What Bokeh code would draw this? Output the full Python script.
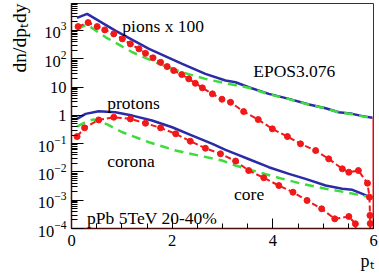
from bokeh.plotting import figure
from bokeh.models import FixedTicker, SingleIntervalTicker, LogTickFormatter, Label, Title
from bokeh.embed import file_html
from bokeh.resources import INLINE

# ---- data ----
pt_pi_total = [0.11, 0.31, 0.87, 1.54, 2.20, 2.66, 3.06, 3.26, 3.52, 3.92, 4.32, 4.72, 5.05, 5.31, 5.58, 5.78, 5.98]
pi_total = [2790, 3860, 991, 224, 66, 29.2, 17.0, 14.8, 9.84, 5.75, 3.83, 2.41, 1.78, 1.29, 1.13, 0.94, 0.82]

pt_pi_corona = [0.11, 0.31, 0.68, 1.21, 1.74, 2.20, 2.66, 3.06, 3.52, 3.92, 4.32, 4.72, 5.05, 5.31, 5.58, 5.78, 6.0]
pi_corona = [1140, 1615, 575, 170, 66, 33.3, 19.5, 13.6, 9.5, 5.6, 3.75, 2.38, 1.76, 1.28, 1.10, 0.92, 0.80]

pt_pi_core = [0.13, 0.33, 0.51, 0.66, 0.84, 1.01, 1.17, 1.34, 1.47, 1.62, 1.77, 1.90, 2.03, 2.19, 2.33,
              2.46, 2.60, 2.80, 2.99, 3.16, 3.42, 3.71, 3.99, 4.29, 4.55, 4.85, 5.11, 5.38, 5.51, 5.70,
              5.88, 5.92, 5.93, 5.935, 5.94]
pi_core = [1374, 1900, 1374, 1050, 759, 505, 336, 224, 156, 108, 75, 53, 38.3, 27.7, 19.5,
           13.6, 9.37, 5.75, 3.71, 2.90, 1.36, 0.71, 0.333, 0.178, 0.0984, 0.057, 0.029, 0.0129, 0.00975, 0.0112,
           0.0040, 0.00128, 2.9e-4, 1.5e-4, 1e-6]
pt_edge = [6.0, 6.0]
edge = [1e-6, 0.82]

pt_p_total = [0.11, 0.28, 0.54, 0.87, 1.21, 1.60, 2.00, 2.40, 2.80, 3.06, 3.26, 3.59, 3.92, 4.32, 4.65,
              5.05, 5.38, 5.58, 5.78, 5.92]
p_total = [0.75, 1.13, 1.40, 1.29, 0.98, 0.655, 0.38, 0.193, 0.098, 0.060, 0.0437, 0.0253, 0.0147, 0.00857,
           0.0057, 0.0033, 0.00253, 0.00233, 0.00168, 0.00128]

pt_p_corona = [0.11, 0.31, 0.44, 0.71, 1.01, 1.54, 2.07, 2.53, 2.99, 3.26, 3.72, 4.19, 4.58, 5.05, 5.44, 5.78, 6.0]
p_corona = [0.40, 0.62, 0.72, 0.48, 0.253, 0.112, 0.057, 0.038, 0.0253, 0.0168, 0.00975, 0.0057, 0.0038,
            0.00253, 0.00192, 0.00147, 0.00115]

pt_p_core = [0.11, 0.26, 0.54, 0.84, 1.17, 1.47, 1.77, 2.07, 2.36, 2.66, 2.96, 3.26, 3.52, 3.82, 4.12,
             4.40, 4.68, 4.97, 5.23, 5.51, 5.64, 5.72]
p_core = [0.178, 0.361, 0.69, 0.857, 0.75, 0.526, 0.361, 0.222, 0.122, 0.0687, 0.0437, 0.0243, 0.0112,
          0.0062, 0.0033, 0.00192, 0.00098, 4.97e-4, 2.2e-4, 2.65e-4, 1.47e-4, 1e-6]

x_ticks_interval = 2
y_ticks = [1e-4, 1e-3, 1e-2, 1e-1, 1, 10, 100, 1000]
y_plain_labels = {1: "1", 10: "10"}

FONT = "Liberation Serif"
BLUE = "#2b2ba6"
RED = "#f01818"
GREEN = "#3ddc3d"

p = figure(width=379, height=276, x_range=(0, 6), y_range=(1e-4, 9000), y_axis_type="log",
           output_backend="svg", toolbar_location=None,
           min_border_left=71, min_border_right=6, min_border_top=3, min_border_bottom=48)
p.grid.visible = False
p.outline_line_color = "#333333"
p.outline_line_width = 1
p.background_fill_color = "white"
p.border_fill_color = "white"

# axes
p.xaxis.ticker = SingleIntervalTicker(interval=x_ticks_interval, num_minor_ticks=4)
minor = [m * 10.0 ** e for e in range(-4, 4) for m in range(2, 10)]
p.yaxis.ticker = FixedTicker(ticks=y_ticks, minor_ticks=minor)
p.yaxis.formatter = LogTickFormatter()
p.yaxis.major_label_overrides = y_plain_labels
for ax in (p.xaxis, p.yaxis):
    ax.axis_line_color = "#4a0e0e"
    ax.axis_line_width = 1.5
    ax.major_tick_out = 0
    ax.minor_tick_out = 0
    ax.major_tick_line_color = "black"
    ax.minor_tick_line_color = "black"
    ax.major_label_text_font = FONT
    ax.major_label_text_font_size = "16.5px"
    ax.major_label_text_color = "black"
p.xaxis.major_tick_in = 10
p.xaxis.minor_tick_in = 5
p.yaxis.major_tick_in = 12
p.yaxis.minor_tick_in = 6
p.xaxis.major_label_standoff = 6
p.yaxis.major_label_standoff = 5

# axis titles
p.add_layout(Title(text="dn/dp\u209cdy", align="right", text_font=FONT, text_font_size="19.5px",
                   text_font_style="normal", text_color="black"), "left")
p.add_layout(Title(text="p\u209c", align="right", text_font=FONT, text_font_size="18px",
                   text_font_style="normal", text_color="black", standoff=0), "below")

# curves
p.line(pt_pi_total, pi_total, line_color=BLUE, line_width=2.5)
p.line(pt_p_total, p_total, line_color=BLUE, line_width=2.5)
p.line(pt_pi_corona, pi_corona, line_color=GREEN, line_width=2.5, line_dash="9 6")
p.line(pt_p_corona, p_corona, line_color=GREEN, line_width=2.5, line_dash="9 6")
p.line(pt_edge, edge, line_color=RED, line_width=2)
for xs, ys in ((pt_pi_core, pi_core), (pt_p_core, p_core)):
    p.line(xs, ys, line_color=RED, line_width=2, line_dash="6 3")
    p.scatter(xs, ys, size=6, fill_color=RED, line_color=RED)

# in-plot texts
def lab(x, y, t, size="17.5px"):
    p.add_layout(Label(x=x, y=y, text=t, text_font=FONT, text_font_size=size,
                       text_color="black", text_baseline="alphabetic", text_align="left"))

lab(1.01, 1400, "pions x 100")
lab(3.61, 36, "EPOS3.076")
lab(0.71, 2.8, "protons")
lab(0.71, 0.0235, "corona")
lab(3.23, 0.0016, "core")
lab(0.31, 2.3e-4, "pPb 5TeV 20-40%")

open("out.html", "w").write(file_html(p, INLINE))
